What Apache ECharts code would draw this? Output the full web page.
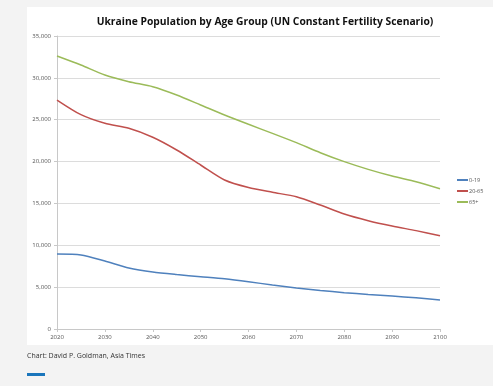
<!DOCTYPE html>
<html><head><meta charset="utf-8">
<script src="https://cdn.jsdelivr.net/npm/echarts@6/dist/echarts.min.js"></script>
<style>html,body{margin:0;padding:0;background:#f3f3f3;}#c{width:493px;height:386px;}</style>
</head><body><div id="c"></div>
<script>
const years = [2020,2025,2030,2035,2040,2045,2050,2055,2060,2065,2070,2075,2080,2085,2090,2095,2100];
const age0_19 = [8960,8850,8120,7290,6800,6500,6250,6000,5650,5250,4900,4600,4340,4130,3940,3720,3460];
const age20_65 = [27350,25600,24570,23970,22900,21380,19590,17800,16900,16330,15800,14810,13740,12940,12300,11750,11150];
const age65plus = [32610,31530,30340,29540,28940,27950,26760,25560,24450,23370,22260,21060,19990,19070,18270,17600,16760];
const seriesNames = ['0-19','20-65','65+'];
const colors = ['#4f81bd','#c0504d','#9bbb59'];
const pair = arr => years.map((y,i)=>[y,arr[i]]);
const chart = echarts.init(document.getElementById('c'));
const font = 'Open Sans';
chart.setOption({
  animation:false,
  color: colors,
  graphic:[
    {type:'rect', z:-10, shape:{x:27,y:7,width:470,height:338}, style:{fill:'#ffffff'}},
    {type:'text', left:27, top:352, style:{text:'Chart: David P. Goldman, Asia Times', fill:'#333', font:'7px "Open Sans"'}},
    {type:'rect', shape:{x:27,y:373,width:18,height:3}, style:{fill:'#1a75bb'}}
  ],
  title:{text:'Ukraine Population by Age Group (UN Constant Fertility Scenario)', left:260, textAlign:'center', top:12,
    textStyle:{fontFamily:font, fontWeight:'bold', fontSize:10.3, color:'#111'}},
  legend:{orient:'vertical', left:452, top:172, icon:'rect', itemWidth:11, itemHeight:2, itemGap:5,
    textStyle:{fontFamily:font, fontSize:5.5, color:'#555', padding:[0,0,0,-4]}, data:seriesNames},
  grid:{left:57, right:53, top:36, bottom:57},
  xAxis:{type:'value', min:2020, max:2100, interval:10,
    axisLine:{lineStyle:{color:'#c8c8c8'}}, axisTick:{show:true, length:3, lineStyle:{color:'#c8c8c8'}},
    splitLine:{show:false},
    axisLabel:{formatter:v=>String(v), fontFamily:font, fontSize:6, color:'#555', margin:5}},
  yAxis:{type:'value', min:0, max:35000, interval:5000,
    axisLine:{show:true, lineStyle:{color:'#c8c8c8'}}, axisTick:{show:true, length:3, lineStyle:{color:'#c8c8c8'}},
    splitLine:{lineStyle:{color:'#dcdcdc'}},
    axisLabel:{fontFamily:font, fontSize:6, color:'#555', margin:6}},
  series:[
    {name:seriesNames[0], type:'line', data:pair(age0_19), showSymbol:false, smooth:0.25, lineStyle:{width:1.5}},
    {name:seriesNames[1], type:'line', data:pair(age20_65), showSymbol:false, smooth:0.25, lineStyle:{width:1.5}},
    {name:seriesNames[2], type:'line', data:pair(age65plus), showSymbol:false, smooth:0.25, lineStyle:{width:1.5}}
  ]
});
</script></body></html>
